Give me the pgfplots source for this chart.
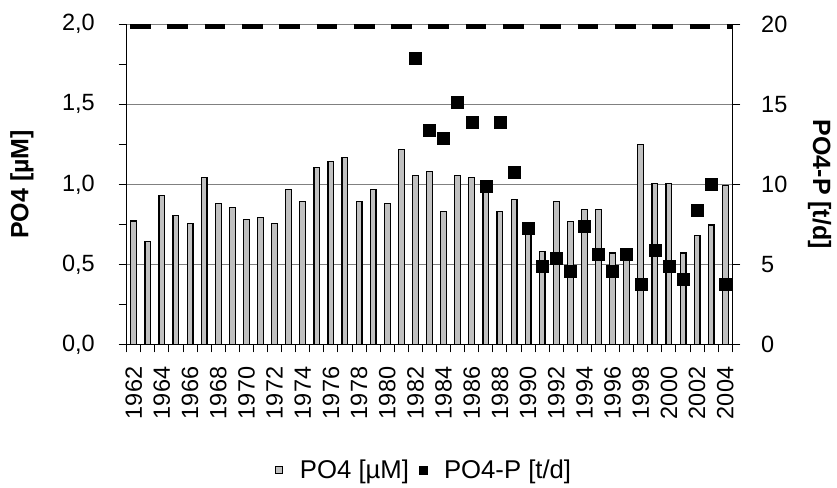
\documentclass[border=0pt]{standalone}
\usepackage{fontspec}
\setmainfont{Liberation Sans}
\usepackage{pgfplots}
\pgfplotsset{compat=1.18}
\definecolor{barfill}{RGB}{192,192,192}
\definecolor{gridgray}{RGB}{128,128,128}

\pgfplotstableread{
x y
0 0.770
1 0.643
2 0.929
3 0.805
4 0.755
5 1.041
6 0.882
7 0.854
8 0.780
9 0.792
10 0.755
11 0.969
12 0.892
13 1.104
14 1.141
15 1.166
16 0.892
17 0.969
18 0.879
19 1.216
20 1.054
21 1.079
22 0.829
23 1.054
24 1.041
25 0.980
26 0.829
27 0.904
28 0.740
29 0.580
30 0.892
31 0.767
32 0.842
33 0.842
34 0.570
35 0.580
36 1.251
37 1.004
38 1.004
39 0.570
40 0.680
41 0.745
42 0.991
}\poiv

\pgfplotstableread{
x y
20 17.86
21 13.37
22 12.87
23 15.12
24 13.87
25 9.86
26 13.87
27 10.75
28 7.27
29 4.90
30 5.40
31 4.55
32 7.39
33 5.65
34 4.55
35 5.65
36 3.78
37 5.90
38 4.90
39 4.05
40 8.39
41 10.03
42 3.78
}\poivp

\begin{document}
\begin{tikzpicture}[font=\fontsize{23.5}{28}\selectfont]
\path[use as bounding box] (-126.7pt,-142.7pt) rectangle (710.3pt,344.3pt);
\begin{axis}[
  at={(0pt,0pt)}, anchor=south west,
  scale only axis, width=605.6pt, height=320pt,
  xmin=-0.5, xmax=42.5, ymin=0, ymax=2,
  axis x line*=bottom, axis y line*=left,
  axis line style={line width=1.3pt, black},
  tick align=outside,
  major tick length=8pt, minor tick length=8pt,
  tick style={black, line width=1pt},
  ytick={0,0.5,1,1.5,2},
  yticklabels={{0,0},{0,5},{1,0},{1,5},{2,0}},
  yticklabel style={anchor=east, inner sep=0pt, xshift=-23.7pt},
  minor ytick={0.25,0.75,1.25,1.75},
  xtick={0,2,...,42},
  xticklabels={1962,1964,1966,1968,1970,1972,1974,1976,1978,1980,1982,1984,1986,1988,1990,1992,1994,1996,1998,2000,2002,2004},
  minor xtick={-0.5,0.5,...,42.5},
  major x tick style={draw=none},
  xticklabel style={rotate=90, anchor=east},
  xticklabel shift=11pt,
  ymajorgrids,
  major grid style={gridgray, line width=1pt},
  every axis y label/.style={at={(axis description cs:-0.1729,0.5)}, anchor=center, rotate=90},
  ylabel={\bfseries\fontsize{25}{30}\selectfont PO4 [µM]},
]
\addplot[ybar, bar width=5.8pt, fill=barfill, draw=black, line width=1.2pt] table[x=x, y=y] {\poiv};
\addplot[black, line width=5pt, dash pattern=on 20.7pt off 16.6pt, dash phase=34pt] coordinates {(-0.5,1.984) (42.5,1.984)};
\end{axis}
\begin{axis}[
  at={(0pt,0pt)}, anchor=south west,
  scale only axis, width=605.6pt, height=320pt,
  xmin=-0.5, xmax=42.5, ymin=0, ymax=20,
  axis x line=none, axis y line*=right,
  axis line style={line width=1.3pt, black},
  tick align=outside,
  major tick length=8pt,
  tick style={black, line width=1pt},
  ytick={0,5,10,15,20},
  yticklabels={0,5,10,15,20},
  yticklabel style={anchor=west, inner sep=0pt, xshift=20.7pt},
  every axis y label/.style={at={(axis description cs:1.144,0.5)}, anchor=center, rotate=-90},
  ylabel={\bfseries\fontsize{25}{30}\selectfont PO4-P [t/d]},
  legend style={at={(axis description cs:0.491,-0.393)}, anchor=center, draw=none, fill=none,
    font=\fontsize{25.7}{30}\selectfont, legend columns=2,
    /tikz/every odd column/.append style={column sep=15pt},
    /tikz/every even column/.append style={column sep=8pt}},
]
\addlegendimage{legend image code/.code={\draw[fill=barfill, draw=black, line width=0.8pt] (0pt,-3.6pt) rectangle (7.2pt,3.6pt);}}
\addlegendentry{PO4 [µM]}
\addplot[only marks, mark=square*, mark size=6pt, black,
  legend image code/.code={\fill[black] (0pt,-3.8pt) rectangle (7.6pt,3.8pt);}] table[x=x, y=y] {\poivp};
\addlegendentry{PO4-P [t/d]}
\end{axis}
\end{tikzpicture}
\end{document}
